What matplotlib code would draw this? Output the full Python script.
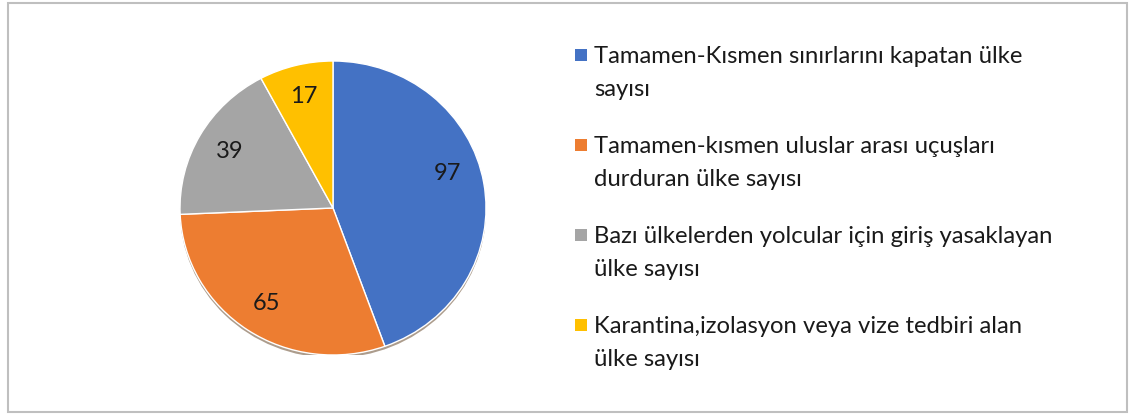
import matplotlib
matplotlib.use("Agg")
import matplotlib.pyplot as plt
from matplotlib.patches import Rectangle, Ellipse

plt.rcParams['font.family'] = ['Lato', 'DejaVu Sans']

categories = [
    "Tamamen-Kısmen sınırlarını kapatan ülke\nsayısı",
    "Tamamen-kısmen uluslar arası uçuşları\ndurduran ülke sayısı",
    "Bazı ülkelerden yolcular için giriş yasaklayan\nülke sayısı",
    "Karantina,izolasyon veya vize tedbiri alan\nülke sayısı",
]
values = [97, 65, 39, 17]
colors = ["#4472C4", "#ED7D31", "#A5A5A5", "#FFC000"]

W, H = 1134, 416
fig = plt.figure(figsize=(W / 100, H / 100), dpi=100)

# outer frame
fig.patches.append(Rectangle((8 / W, (H - 412) / H), (1127 - 8) / W, (412 - 3) / H,
                             transform=fig.transFigure, fill=False,
                             edgecolor="#BFBFBF", linewidth=1.5))

# pie axes (pixel placement)
cx, cy, rx, ry = 333, 208, 153, 147
ax = fig.add_axes([(cx - rx) / W, (H - cy - ry) / H, 2 * rx / W, 2 * ry / H])
shadow = Ellipse((0.0, -0.02), 2.0, 2.0, facecolor="#5a3a1a", alpha=0.5,
                 edgecolor="none", zorder=0)
ax.add_patch(shadow)
wedges, texts = ax.pie(values, colors=colors, startangle=90, counterclock=False,
                       radius=1.0, labels=[str(v) for v in values], labeldistance=0.78,
                       wedgeprops=dict(edgecolor="white", linewidth=1.0),
                       textprops=dict(fontsize=17, color="#1a1a1a", ha="center", va="center"))
for w in wedges:
    w.set_zorder(2)
for t in texts:
    t.set_zorder(3)
# Excel best-fit nudges the largest label slightly upward
x0, y0 = texts[0].get_position()
texts[0].set_position((x0 - 0.02, y0 + 0.1))
ax.set_aspect("auto")
ax.set_xlim(-1, 1)
ax.set_ylim(-1, 1)
ax.axis("off")

# legend (manual, marker aligned with first line)
leg_x_marker = 575
leg_x_text = 594
first_baseline = [63, 153, 243, 333]
line_gap = 33
for cat, col, yb in zip(categories, colors, first_baseline):
    fig.patches.append(Rectangle((leg_x_marker / W, (H - yb + 2) / H), 12 / W, 12 / H,
                                 transform=fig.transFigure, facecolor=col, edgecolor="none"))
    for i, line in enumerate(cat.split("\n")):
        fig.text(leg_x_text / W, (H - yb - i * line_gap) / H, line, fontsize=17.2,
                 color="#1a1a1a", ha="left", va="baseline",
                 transform=fig.transFigure)

fig.savefig("out.png", dpi=100)
